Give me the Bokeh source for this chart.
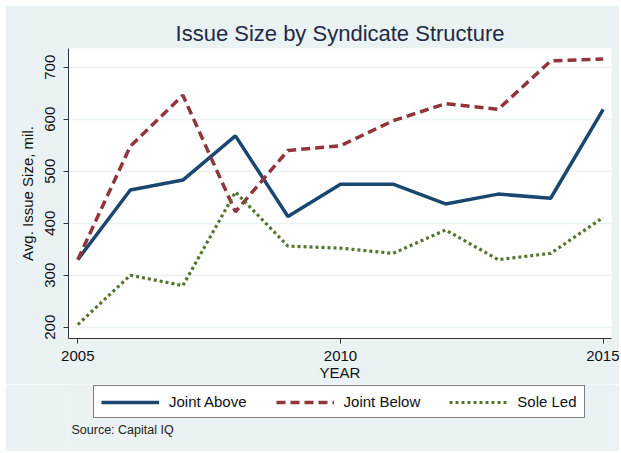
from bokeh.plotting import figure
from bokeh.layouts import column
from bokeh.models import (Range1d, FixedTicker, Legend, LegendItem, Label)
from bokeh.embed import file_html
from bokeh.resources import INLINE

# ---- data ----
years = [2005, 2006, 2007, 2008, 2009, 2010, 2011, 2012, 2013, 2014, 2015]
joint_above = [330, 464, 483, 568, 413, 475, 475, 437, 456, 448, 619]
joint_below = [330, 548, 646, 422, 540, 549, 597, 630, 619, 712, 716]
sole_led = [205, 300, 280, 460, 356, 352, 342, 387, 330, 342, 411]

x_ticks = [2005, 2010, 2015]
y_ticks = [200, 300, 400, 500, 600, 700]
series_names = ["Joint Above", "Joint Below", "Sole Led"]
series_colors = ["#1a476f", "#90353b", "#55752f"]
series_dash = ["solid", "9 5", "3 3"]
series_width = [3.5, 3.5, 3.2]

FONT = "Liberation Sans"
BG = "#EAF2F3"

p = figure(width=614, height=379, output_backend="svg", toolbar_location=None,
           x_range=Range1d(2004.823, 2015.158), y_range=Range1d(178.3, 736),
           min_border_left=63, min_border_right=8, min_border_top=43,
           min_border_bottom=46,
           title="Issue Size by Syndicate Structure")

p.background_fill_color = "white"
p.border_fill_color = BG
p.outline_line_color = None

p.title.align = "center"
p.title.text_font = FONT
p.title.text_font_size = "22px"
p.title.text_font_style = "normal"
p.title.text_color = "#1f2a44"
p.title.standoff = 6

# axes
for ax in (p.xaxis[0], p.yaxis[0]):
    ax.axis_line_color = "#333333"
    ax.major_tick_line_color = "#333333"
    ax.minor_tick_line_color = None
    ax.major_tick_in = 0
    ax.major_tick_out = 5
    ax.major_label_text_font = FONT
    ax.major_label_text_font_size = "15px"
    ax.major_label_text_color = "#111111"
    ax.axis_label_text_font = FONT
    ax.axis_label_text_font_size = "15px"
    ax.axis_label_text_font_style = "normal"
    ax.axis_label_text_color = "#111111"

p.xaxis.ticker = FixedTicker(ticks=x_ticks)
p.xaxis.axis_label = "YEAR"
p.xaxis.major_label_standoff = 7
p.xaxis.axis_label_standoff = 0

p.yaxis.ticker = FixedTicker(ticks=y_ticks)
p.yaxis.axis_label = "Avg. Issue Size, mil."
p.yaxis.major_label_orientation = "vertical"
p.yaxis.major_label_standoff = 8
p.yaxis.axis_label_standoff = 7

p.xgrid.grid_line_color = None
p.ygrid.grid_line_color = BG
p.ygrid.grid_line_width = 1.5
p.ygrid.ticker = FixedTicker(ticks=y_ticks)

series = [joint_above, joint_below, sole_led]
for vals, c, d, w in zip(series, series_colors, series_dash, series_width):
    p.line(years, vals, line_color=c, line_width=w, line_dash=d)

# ---- legend + source strip (frame aligned with the main plot) ----
q = figure(width=614, height=67, output_backend="svg", toolbar_location=None,
           x_range=Range1d(0, 1), y_range=Range1d(0, 1),
           x_axis_location=None, y_axis_location=None,
           min_border_left=63, min_border_right=8, min_border_top=0,
           min_border_bottom=0)
q.background_fill_color = BG
q.border_fill_color = BG
q.outline_line_color = None
q.xgrid.visible = False
q.ygrid.visible = False

# legend proxies: same series, out of this strip's view
proxies = []
for vals, c, d, w in zip(series, series_colors, series_dash, series_width):
    proxies.append(q.line(years, vals, line_color=c, line_width=w,
                          line_dash=d))

legend = Legend(items=[LegendItem(label=n, renderers=[r])
                       for n, r in zip(series_names, proxies)],
                orientation="horizontal", location=(25, 33))
legend.label_text_font = FONT
legend.label_text_font_size = "15px"
legend.label_text_color = "#111111"
legend.glyph_width = 58
legend.glyph_height = 16
legend.label_height = 16
legend.label_standoff = 10
legend.spacing = 29
legend.padding = 7
legend.margin = 0
legend.border_line_color = "black"
legend.border_line_width = 1
legend.background_fill_color = "white"
legend.background_fill_alpha = 1
q.add_layout(legend, "center")

src = Label(x=3, y=22, x_units="screen", y_units="screen",
            text="Source: Capital IQ", text_font=FONT,
            text_font_size="12.5px", text_color="#222222",
            text_baseline="alphabetic")
q.add_layout(src)

layout = column(p, q, spacing=0)
layout.margin = (5, 0, 0, 5)

open("out.html", "w").write(file_html(layout, INLINE))
